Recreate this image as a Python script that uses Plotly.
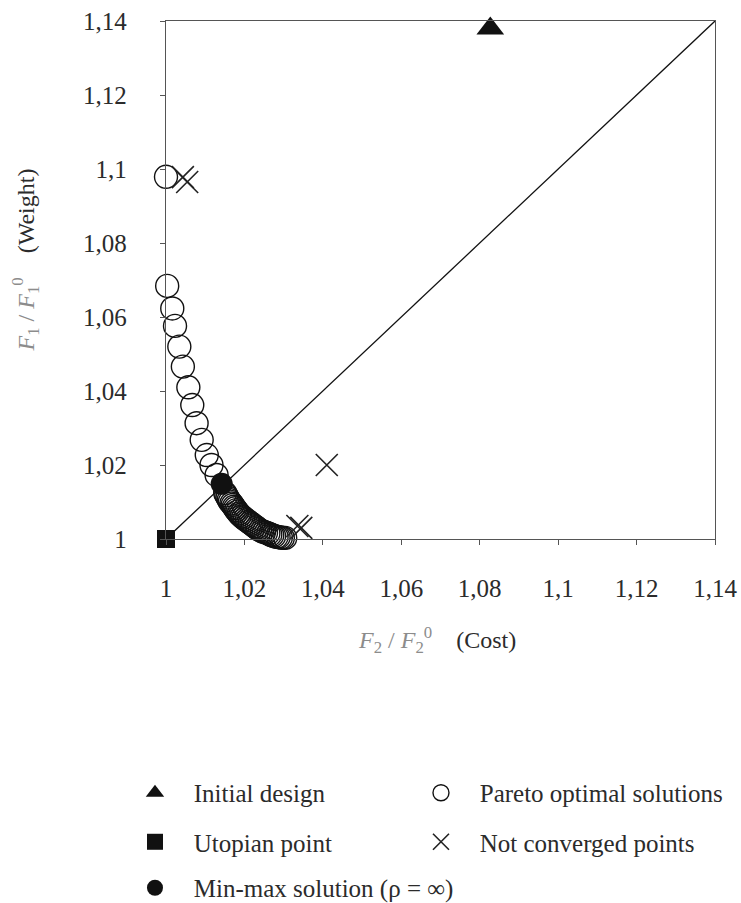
import plotly.graph_objects as go

# ---------------- data ----------------
initial_x = [1.0827]
initial_y = [1.138]

utopian_x = [1.0]
utopian_y = [1.0]

minmax_x = [1.0142]
minmax_y = [1.0149]

pareto_x = [1.0000, 1.0003, 1.0016, 1.0023, 1.0034, 1.0043, 1.0057, 1.0067, 1.0078,
            1.0091, 1.0104, 1.0116, 1.0129, 1.0151, 1.0154, 1.0157, 1.0160, 1.0163,
            1.0167, 1.0170, 1.0173, 1.0176, 1.0179, 1.0182, 1.0186, 1.0189, 1.0193,
            1.0197, 1.0201, 1.0206, 1.0210, 1.0214, 1.0218, 1.0222, 1.0226, 1.0231,
            1.0235, 1.0240, 1.0245, 1.0250, 1.0255, 1.0261, 1.0266, 1.0271, 1.0276,
            1.0282, 1.0287, 1.0293, 1.0298, 1.0304]
pareto_y = [1.0979, 1.0684, 1.0623, 1.0576, 1.0520, 1.0466, 1.0410, 1.0362, 1.0313,
            1.0268, 1.0227, 1.0200, 1.0173, 1.0124, 1.0118, 1.0112, 1.0106, 1.0101,
            1.0096, 1.0092, 1.0087, 1.0083, 1.0078, 1.0074, 1.0069, 1.0065, 1.0061,
            1.0058, 1.0054, 1.0051, 1.0047, 1.0044, 1.0041, 1.0038, 1.0034, 1.0031,
            1.0027, 1.0024, 1.0021, 1.0019, 1.0017, 1.0015, 1.0012, 1.0010, 1.0008,
            1.0006, 1.0005, 1.0004, 1.0003, 1.0003]

notconv_x = [1.0043, 1.0054, 1.0410, 1.0335, 1.0345]
notconv_y = [1.0978, 1.0965, 1.0200, 1.0035, 1.0030]

diag_vals = [1.0, 1.1415]

tick_vals = [1.0, 1.02, 1.04, 1.06, 1.08, 1.10, 1.12, 1.14]
tick_text = ["1", "1,02", "1,04", "1,06", "1,08", "1,1", "1,12", "1,14"]

# ---------------- styling ----------------
FONT = "Liberation Serif"
DARK = "#2b2b2b"
GRAY = "#8c8c8c"
AXIS = "#555555"
PAD = "\u00a0\u00a0\u00a0"

fig = go.Figure()

fig.add_trace(go.Scatter(x=diag_vals, y=diag_vals, mode="lines",
                         line=dict(color="#111111", width=1.3),
                         showlegend=False, hoverinfo="skip", cliponaxis=False))

fig.add_trace(go.Scatter(x=pareto_x, y=pareto_y, mode="markers",
                         name=PAD + "Pareto optimal solutions",
                         marker=dict(symbol="circle-open", size=23, color="#111111",
                                     line=dict(width=1.4)),
                         legend="legend", legendrank=2, legendwidth=290,
                         cliponaxis=False))

fig.add_trace(go.Scatter(x=minmax_x, y=minmax_y, mode="markers",
                         name=PAD + "Min-max solution (ρ = ∞)",
                         marker=dict(symbol="circle", size=22, color="#111111"),
                         legend="legend3", legendrank=1, cliponaxis=False))

fig.add_trace(go.Scatter(x=notconv_x, y=notconv_y, mode="markers",
                         name=PAD + "Not converged points",
                         marker=dict(symbol="x-thin-open", size=22, color="#222222",
                                     line=dict(width=1.6, color="#222222")),
                         legend="legend2", legendrank=2, legendwidth=290,
                         cliponaxis=False))

fig.add_trace(go.Scatter(x=utopian_x, y=utopian_y, mode="markers",
                         name=PAD + "Utopian point",
                         marker=dict(symbol="square", size=18, color="#111111"),
                         legend="legend2", legendrank=1, legendwidth=241,
                         cliponaxis=False))

fig.add_trace(go.Scatter(x=initial_x, y=initial_y, mode="markers",
                         name=PAD + "Initial design",
                         marker=dict(symbol="triangle-up", size=24, color="#111111"),
                         legend="legend", legendrank=1, legendwidth=241,
                         cliponaxis=False))

axis_common = dict(
    range=[1.0, 1.14], tickmode="array", tickvals=tick_vals, ticktext=tick_text,
    showgrid=False, zeroline=False, showline=True, linecolor=AXIS, linewidth=1.3,
    mirror=True, ticks="outside", ticklen=5, tickcolor=AXIS, tickwidth=1,
    tickfont=dict(family=FONT, size=25, color=DARK), automargin=False,
)

fig.update_xaxes(**axis_common, ticklabelstandoff=22)
fig.update_yaxes(**axis_common, ticklabelstandoff=28)

legend_common = dict(orientation="h", xanchor="left", yanchor="middle",
                     entrywidthmode="pixels", bgcolor="rgba(0,0,0,0)",
                     font=dict(family=FONT, size=25, color=DARK))

fig.update_layout(
    width=741, height=903,
    margin=dict(l=166, r=26, t=21, b=364, autoexpand=False),
    paper_bgcolor="white", plot_bgcolor="white",
    showlegend=True,
    legend=dict(**legend_common, x=-0.0565, y=-0.4903),
    legend2=dict(**legend_common, x=-0.0565, y=-0.585),
    legend3=dict(**legend_common, x=-0.0565, y=-0.6737),
    annotations=[
        dict(xref="paper", yref="paper", x=0.4936, y=-0.195,
             xanchor="center", yanchor="middle", showarrow=False,
             font=dict(family=FONT, size=24, color=DARK),
             text=("<span style='color:%s'><i>F</i><sub>2</sub> / <i>F</i><sub>2</sub>"
                   "<sup>0</sup></span>\u00a0\u00a0\u00a0\u00a0(Cost)") % GRAY),
        dict(xref="paper", yref="paper", x=-0.256, y=0.5386,
             xanchor="center", yanchor="middle", showarrow=False, textangle=-90,
             font=dict(family=FONT, size=24, color=DARK),
             text=("<span style='color:%s'><i>F</i><sub>1</sub> / <i>F</i><sub>1</sub>"
                   "<sup>0</sup></span>\u00a0\u00a0\u00a0\u00a0(Weight)") % GRAY),
    ],
)

fig.write_html("out.html", config={"displayModeBar": False},
               post_script="document.body.style.margin='0';")
